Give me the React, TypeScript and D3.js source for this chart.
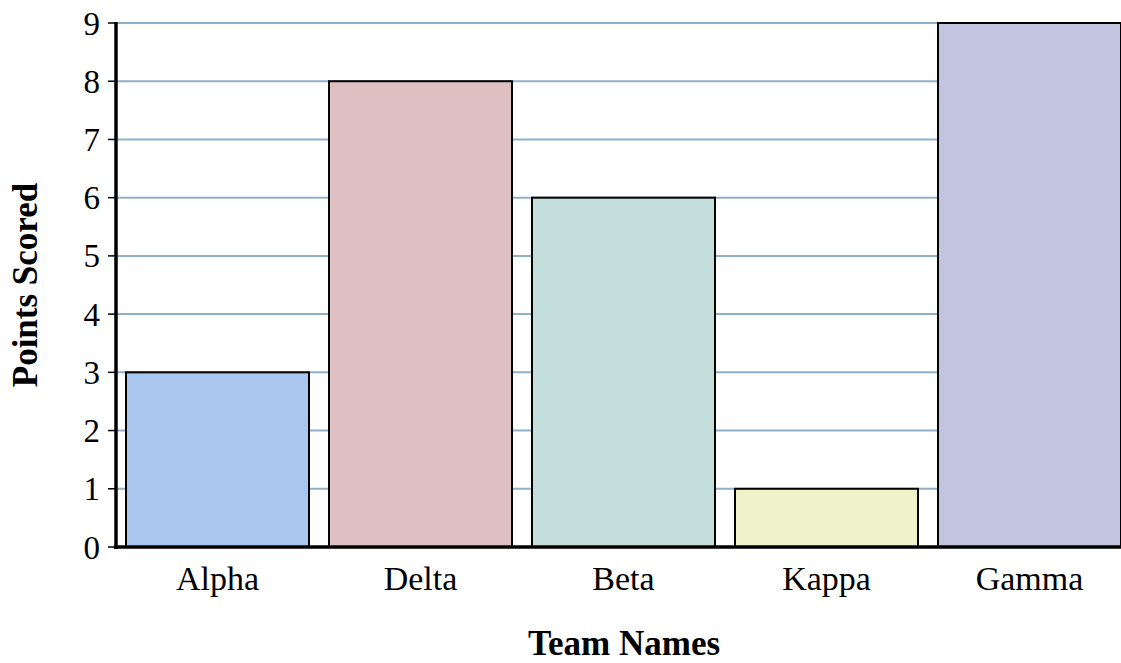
import React from "react";
import * as d3 from "d3";

const categories = ["Alpha", "Delta", "Beta", "Kappa", "Gamma"];
const values = [3, 8, 6, 1, 9];
const colors = ["#a9c6ef", "#dfc0c2", "#c4dfdb", "#eef3c9", "#c2c5e0"];
const yTicks = [0, 1, 2, 3, 4, 5, 6, 7, 8, 9];

export default function App() {
  const W = 1121, H = 663;
  const left = 116, top = 23, bottom = 547;
  const step = 203;
  const x = d3.scaleBand().domain(categories).range([left, left + step * categories.length]).paddingInner(20 / 203).paddingOuter(10 / 203);
  const y = d3.scaleLinear().domain([0, 9]).range([bottom, top]);
  const font = "'Liberation Serif', 'Times New Roman', serif";
  return (
    <svg width={W} height={H} style={{ position: "absolute", left: 0, top: 0, background: "#fff" }} fontFamily={font}>
      {yTicks.filter(t => t > 0).map(t => (
        <line key={"g" + t} x1={left} x2={W} y1={y(t)} y2={y(t)} stroke="#8fb0cb" strokeWidth={2} />
      ))}
      {yTicks.map(t => (
        <g key={"t" + t}>
          <line x1={left - 8} x2={left} y1={y(t)} y2={y(t)} stroke="#000" strokeWidth={1.5} />
          <text x={100} y={y(t)} dy="0.35em" textAnchor="end" fontSize={33} fill="#000">{t}</text>
        </g>
      ))}
      {categories.map((c, i) => (
        <rect key={c} x={x(c)} y={y(values[i])} width={x.bandwidth()} height={bottom - y(values[i])} fill={colors[i]} stroke="#000" strokeWidth={2} />
      ))}
      {categories.map(c => (
        <text key={"l" + c} x={x(c)! + x.bandwidth() / 2} y={590} textAnchor="middle" fontSize={34} fill="#000">{c}</text>
      ))}
      <line x1={left} x2={left} y1={top - 1} y2={bottom + 2} stroke="#000" strokeWidth={3.5} />
      <line x1={left - 2} x2={W} y1={bottom} y2={bottom} stroke="#000" strokeWidth={3.5} />
      <text x={624} y={655} textAnchor="middle" fontSize={35} fontWeight="bold" fill="#000">Team Names</text>
      <text transform={`translate(37, ${y(4.5)}) rotate(-90)`} textAnchor="middle" fontSize={35} fontWeight="bold" fill="#000">Points Scored</text>
    </svg>
  );
}
